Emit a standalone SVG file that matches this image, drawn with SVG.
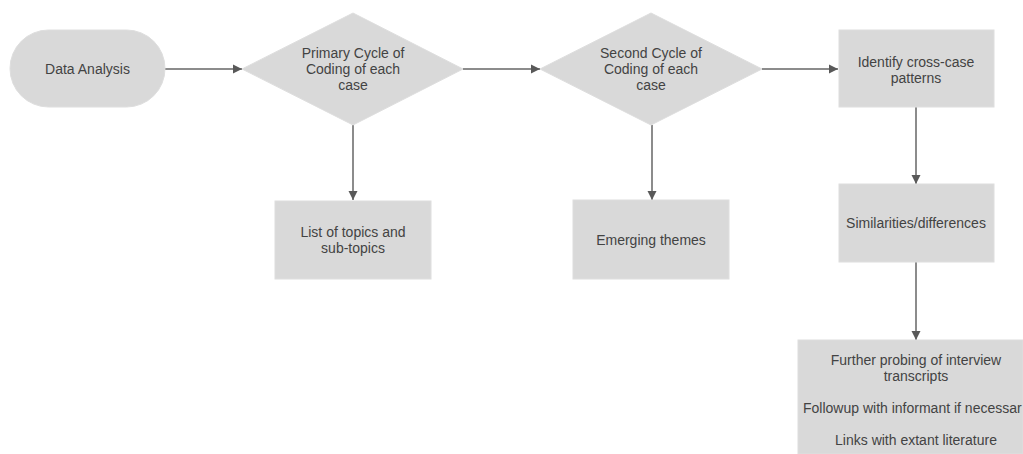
<svg xmlns="http://www.w3.org/2000/svg" width="1023" height="454" viewBox="0 0 1023 454">
<style>
.n{fill:#d9d9d9;stroke:#dedede;stroke-width:1}
.t{font-family:"Liberation Sans",Arial,sans-serif;font-size:14px;fill:#434343;text-anchor:middle;dominant-baseline:central}
.c{stroke:#666666;stroke-width:1.5;fill:none;marker-end:url(#ah)}
</style>
<defs>
<marker id="ah" markerWidth="10" markerHeight="10" refX="9" refY="5" orient="auto" markerUnits="userSpaceOnUse">
<path d="M0,0.5 L9,5 L0,9.5 Z" fill="#595959"/>
</marker>
</defs>
<rect width="1023" height="454" fill="#ffffff"/>
<g id="connectors">
<line class="c" x1="165" y1="69" x2="242" y2="69"/>
<line class="c" x1="463" y1="69" x2="540" y2="69"/>
<line class="c" x1="762" y1="69" x2="838" y2="69"/>
<line class="c" x1="353" y1="125" x2="353" y2="200"/>
<line class="c" x1="652" y1="125" x2="652" y2="200"/>
<line class="c" x1="916" y1="107" x2="916" y2="184"/>
<line class="c" x1="916" y1="262" x2="916" y2="340"/>
</g>
<g id="data-analysis">
<rect class="n" x="10" y="30" width="155" height="77" rx="38.5"/>
<text class="t" x="87.5" y="69">Data Analysis</text>
</g>
<g id="primary-cycle">
<polygon class="n" points="353,13 463,69 353,125 242,69"/>
<text class="t" x="353" y="53">Primary Cycle of</text>
<text class="t" x="353" y="69">Coding of each</text>
<text class="t" x="353" y="85">case</text>
</g>
<g id="second-cycle">
<polygon class="n" points="651,13 762,69 651,125 540,69"/>
<text class="t" x="651" y="53">Second Cycle of</text>
<text class="t" x="651" y="69">Coding of each</text>
<text class="t" x="651" y="85">case</text>
</g>
<g id="cross-case">
<rect class="n" x="839" y="30" width="155" height="77"/>
<text class="t" x="916" y="62">Identify cross-case</text>
<text class="t" x="916" y="78">patterns</text>
</g>
<g id="topics">
<rect class="n" x="275" y="201" width="156" height="78"/>
<text class="t" x="353" y="232">List of topics and</text>
<text class="t" x="353" y="248">sub-topics</text>
</g>
<g id="themes">
<rect class="n" x="573" y="200" width="156" height="79"/>
<text class="t" x="651" y="240">Emerging themes</text>
</g>
<g id="similarities">
<rect class="n" x="839" y="184" width="155" height="78"/>
<text class="t" x="916" y="223">Similarities/differences</text>
</g>
<g id="further">
<rect class="n" x="798" y="340" width="225" height="114"/>
<text class="t" x="916" y="360">Further probing of interview</text>
<text class="t" x="916" y="376">transcripts</text>
<text class="t" x="803" y="408" style="text-anchor:start">Followup with informant if necessar</text>
<text class="t" x="916" y="440">Links with extant literature</text>
</g>
</svg>
